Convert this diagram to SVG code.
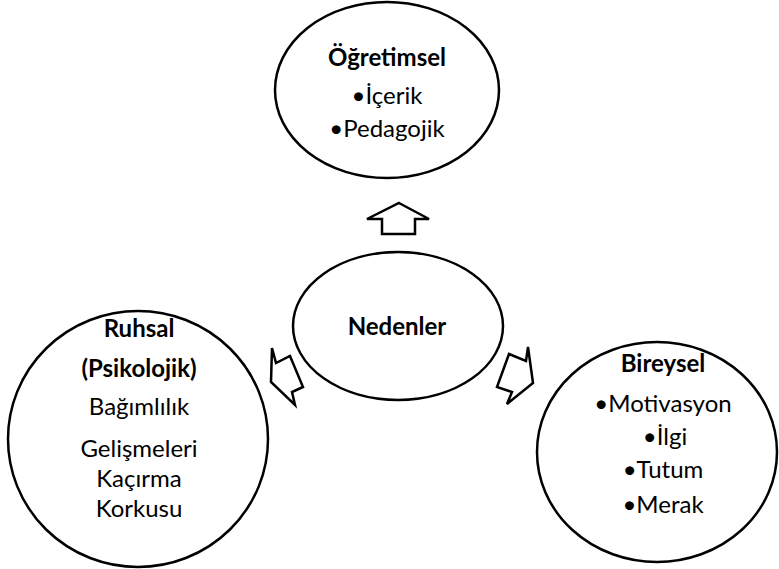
<svg xmlns="http://www.w3.org/2000/svg" width="779" height="569" viewBox="0 0 779 569">
<style>
.n{fill:#fff;stroke:#000;stroke-width:2.5}
.a{fill:#fff;stroke:#000;stroke-width:2.5;stroke-linejoin:miter}
text{font-family:Lato,"Liberation Sans",sans-serif;font-size:24px;fill:#000;text-anchor:middle}
.b{font-weight:bold}
</style>
<rect width="779" height="569" fill="#fff"/>
<g id="ogretimsel">
<ellipse class="n" cx="387" cy="90" rx="112" ry="88"/>
<text class="b" x="387" y="66">Öğretimsel</text>
<text x="387" y="104">•İçerik</text>
<text x="387" y="137">•Pedagojik</text>
</g>
<g id="nedenler">
<ellipse class="n" cx="398" cy="326" rx="105" ry="74"/>
<text class="b" x="397" y="335">Nedenler</text>
</g>
<g id="ruhsal">
<ellipse class="n" cx="138" cy="439" rx="130" ry="128"/>
<text class="b" x="139" y="337">Ruhsal</text>
<text class="b" x="139" y="377">(Psikolojik)</text>
<text x="139" y="415">Bağımlılık</text>
<text x="139" y="457">Gelişmeleri</text>
<text x="139" y="487">Kaçırma</text>
<text x="139" y="517">Korkusu</text>
</g>
<g id="bireysel">
<ellipse class="n" cx="657" cy="452" rx="120" ry="110"/>
<text class="b" x="663" y="372">Bireysel</text>
<text x="663" y="412">•Motivasyon</text>
<text x="665" y="445">•İlgi</text>
<text x="663" y="478">•Tutum</text>
<text x="663" y="513">•Merak</text>
</g>
<g id="connectors">
<polygon class="a" points="399,203 429,219 415,219 415,234 382,234 382,219 367,219"/>
<polygon class="a" points="271,382 272,348 276,363 290,356 303,387 292,392 295,405"/>
<polygon class="a" points="533,383 528,347 526,361 509,354 497,387 512,392 507,404"/>
</g>
</svg>
